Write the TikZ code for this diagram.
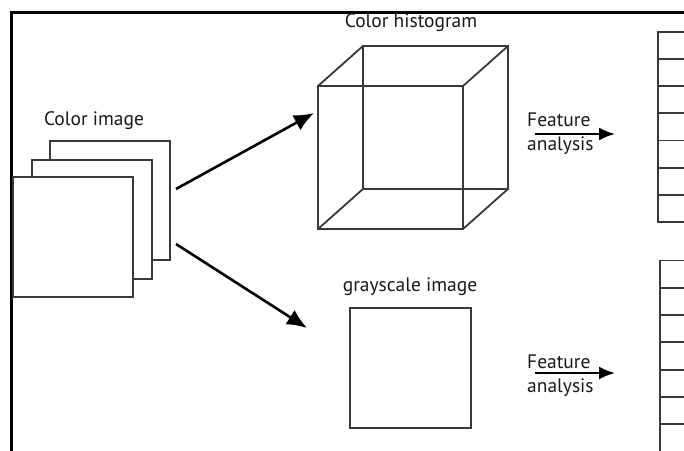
\documentclass[tikz,border=0pt]{standalone}
\usepackage{fontspec}
\setmainfont{PT Sans}
\usetikzlibrary{arrows.meta}
\begin{document}
\begin{tikzpicture}[x=1pt,y=-1pt,
  shape line/.style={draw=black!78, line width=1.8pt},
  imgbox/.style={shape line, fill=white, anchor=north west, inner sep=0pt, outer sep=0pt},
  cell/.style={shape line, anchor=north west, inner sep=0pt, minimum width=60pt},
  lbl/.style={font=\fontsize{19.5}{21}\selectfont, text=black!90, inner sep=0pt},
  bigarrow/.style={line width=2.6pt, -{Latex[length=20pt,width=17pt]}},
  featarrow/.style={line width=2.2pt, -{Latex[length=16pt,width=13pt]}}]
  \useasboundingbox (0,0) rectangle (684,450);
  \clip (0,0) rectangle (684,450);

  % outer frame (runs off the right and bottom)
  \draw[line width=3pt] (11,12) rectangle (720,480);

  % stack of colour planes
  \node[imgbox, minimum width=120pt, minimum height=119pt] (planeC) at (50,141) {};
  \node[imgbox, minimum width=120pt, minimum height=119pt] (planeB) at (32,160) {};
  \node[imgbox, minimum width=120pt, minimum height=120pt] (planeA) at (13,177) {};
  \node[lbl] (colorlbl) at (94,121) {Color image};

  % colour histogram cube
  \coordinate (f1) at (318,86);  \coordinate (f2) at (463,86);
  \coordinate (f3) at (463,229); \coordinate (f4) at (318,229);
  \coordinate (b1) at (363,46);  \coordinate (b2) at (508,46);
  \coordinate (b3) at (508,189); \coordinate (b4) at (363,189);
  \draw[shape line] (b1) -- (b2) -- (b3) -- (b4) -- cycle;
  \draw[shape line] (f1) -- (f2) -- (f3) -- (f4) -- cycle;
  \draw[shape line] (f1) -- (b1) (f2) -- (b2) (f3) -- (b3) (f4) -- (b4);
  \node[lbl] (histlbl) at (411,23) {Color histogram};

  % grayscale image
  \node[imgbox, minimum width=121pt, minimum height=120pt] (gray) at (350,308) {};
  \node[lbl] (graylbl) at (410,287) {grayscale image};

  % arrows out of the colour image
  \coordinate (upS) at (176,189);  \coordinate (upE) at (314,113);
  \coordinate (dnS) at (176,244);  \coordinate (dnE) at (307,328);
  \draw[bigarrow] (upS) -- (upE);
  \draw[bigarrow] (dnS) -- (dnE);

  % feature analysis steps
  \node[lbl, anchor=west] (feat1) at (527,120) {Feature};
  \node[lbl, anchor=west] (anal1) at (527,146) {analysis};
  \coordinate (fa1S) at (535,134); \coordinate (fa1E) at (615,134);
  \draw[featarrow] (fa1S) -- (fa1E);

  \node[lbl, anchor=west] (feat2) at (527,362) {Feature};
  \node[lbl, anchor=west] (anal2) at (527,388) {analysis};
  \coordinate (fa2S) at (535,373); \coordinate (fa2E) at (615,373);
  \draw[featarrow] (fa2S) -- (fa2E);

  % feature vectors
  \foreach \i in {0,...,6} {
    \node[cell, minimum height=27.14pt] (vecA\i) at (657,31+27.14*\i) {};
  }
  \foreach \i in {0,...,7} {
    \node[cell, minimum height=27.3pt] (vecB\i) at (659,259.5+27.3*\i) {};
  }
\end{tikzpicture}
\end{document}
